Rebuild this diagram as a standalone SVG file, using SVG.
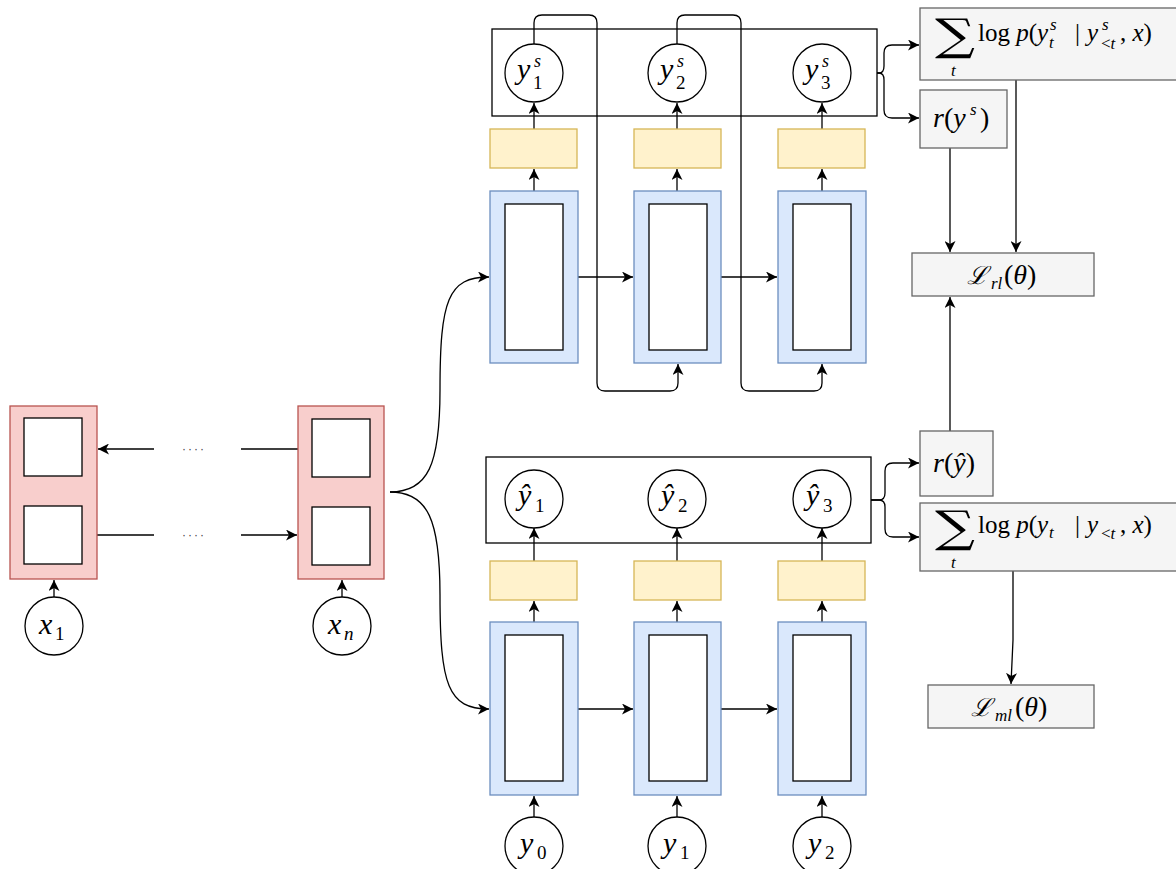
<svg xmlns="http://www.w3.org/2000/svg" width="1176" height="869" viewBox="0 0 1176 869">
<style>
.red{fill:#f8cecc;stroke:#b85450;stroke-width:1.3}
.blue{fill:#dae8fc;stroke:#6c8ebf;stroke-width:1.3}
.yel{fill:#fff2cc;stroke:#d6b656;stroke-width:1.3}
.gray{fill:#f5f5f5;stroke:#666666;stroke-width:1.3}
.inner{fill:#ffffff;stroke:#000000;stroke-width:1.3}
.out{fill:none;stroke:#000000;stroke-width:1.3}
.circ{fill:#ffffff;stroke:#000000;stroke-width:1.3}
.e{fill:none;stroke:#000000;stroke-width:1.3}
.ea{fill:none;stroke:#000000;stroke-width:1.3;marker-end:url(#arr)}
.m{font-family:"Liberation Serif","DejaVu Serif",serif;fill:#000}
.i{font-style:italic}
.big{font-size:30px}
.sm{font-size:19px}
.ss{font-size:18px}
.f{font-size:25px}
.fr{font-size:28px}
.fs{font-size:17px}
.sig{font-size:40px;font-family:"DejaVu Serif",serif}
.dots{font-family:"Liberation Sans",sans-serif;font-size:12px;fill:#444;letter-spacing:2px}
</style>
<defs>
<marker id="arr" markerUnits="userSpaceOnUse" markerWidth="13" markerHeight="11" refX="11" refY="5.5" orient="auto">
<path d="M0,0 L11,5.5 L0,11 L3,5.5 Z" fill="#000"/>
</marker>
</defs>
<rect width="1176" height="869" fill="#ffffff"/>

<g id="connectors">
<line class="e" x1="298" y1="449" x2="241" y2="449"/>
<line class="ea" x1="154" y1="449" x2="98" y2="449"/>
<line class="e" x1="97" y1="535" x2="154" y2="535"/>
<line class="ea" x1="241" y1="535" x2="297" y2="535"/>
<line class="ea" x1="54" y1="597" x2="54" y2="580"/>
<line class="ea" x1="342" y1="597" x2="342" y2="580"/>
<path class="ea" d="M390,492 C428,492 440,465 440,390 C440,300 448,277 489,277"/>
<path class="ea" d="M390,492 C428,492 440,520 440,595 C440,685 448,709 489,709"/>
<line class="ea" x1="578" y1="277" x2="633" y2="277"/>
<line class="ea" x1="721" y1="277" x2="777" y2="277"/>
<line class="ea" x1="534" y1="191" x2="534" y2="169"/>
<line class="ea" x1="677" y1="191" x2="677" y2="169"/>
<line class="ea" x1="822" y1="191" x2="822" y2="169"/>
<line class="ea" x1="534" y1="129" x2="534" y2="103"/>
<line class="ea" x1="677" y1="129" x2="677" y2="103"/>
<line class="ea" x1="822" y1="129" x2="822" y2="103"/>
<path class="ea" d="M534,44 L534,23 Q534,15 542,15 L589,15 Q597,15 597,23 L597,383 Q597,391 605,391 L670,391 Q678,391 678,383 L678,364"/>
<path class="ea" d="M677,44 L677,23 Q677,15 685,15 L733,15 Q741,15 741,23 L741,383 Q741,391 749,391 L814,391 Q822,391 822,383 L822,364"/>
<line class="ea" x1="578" y1="709" x2="633" y2="709"/>
<line class="ea" x1="721" y1="709" x2="777" y2="709"/>
<line class="ea" x1="534" y1="622" x2="534" y2="601"/>
<line class="ea" x1="677" y1="622" x2="677" y2="601"/>
<line class="ea" x1="822" y1="622" x2="822" y2="601"/>
<line class="ea" x1="534" y1="561" x2="534" y2="528"/>
<line class="ea" x1="677" y1="561" x2="677" y2="528"/>
<line class="ea" x1="822" y1="561" x2="822" y2="528"/>
<line class="ea" x1="534" y1="817" x2="534" y2="796"/>
<line class="ea" x1="677" y1="817" x2="677" y2="796"/>
<line class="ea" x1="822" y1="817" x2="822" y2="796"/>
<path class="ea" d="M877,73 L879,73 Q884,73 884,66 L884,53 Q884,45 892,45 L919,45"/>
<path class="ea" d="M877,73 L879,73 Q884,73 884,80 L884,110 Q884,118 892,118 L919,118"/>
<path class="ea" d="M871,500 L879,500 Q885,500 885,493 L885,471 Q885,463 893,463 L919,463"/>
<path class="ea" d="M871,500 L879,500 Q885,500 885,507 L885,529 Q885,537 893,537 L919,537"/>
<line class="ea" x1="950" y1="148" x2="950" y2="252"/>
<line class="ea" x1="1016" y1="80" x2="1016" y2="252"/>
<line class="ea" x1="950" y1="431" x2="950" y2="297"/>
<path class="ea" d="M1013,571 L1013,640 L1011,684"/>
</g>

<g id="enc1">
<rect class="red" x="10" y="406" width="87" height="173"/>
<rect class="inner" x="24" y="418" width="58" height="58"/>
<rect class="inner" x="24" y="506" width="58" height="58"/>
</g>
<g id="encn">
<rect class="red" x="298" y="406" width="86" height="173"/>
<rect class="inner" x="312" y="419" width="58" height="58"/>
<rect class="inner" x="312" y="507" width="58" height="58"/>
</g>
<g id="dots">
<text class="dots" x="182" y="453">····</text>
<text class="dots" x="182" y="539">····</text>
</g>
<g id="x1">
<circle class="circ" cx="54" cy="626" r="29"/>
<text class="m i big" x="39" y="634">x</text><text class="m sm" x="55" y="640">1</text>
</g>
<g id="xn">
<circle class="circ" cx="342" cy="626" r="29"/>
<text class="m i big" x="328" y="634">x</text><text class="m i sm" x="344" y="640">n</text>
</g>

<g id="dec-top">
<rect class="out" x="492" y="29" width="385" height="87"/>
<rect class="yel" x="490" y="129" width="87" height="39"/>
<rect class="yel" x="634" y="129" width="87" height="39"/>
<rect class="yel" x="778" y="129" width="87" height="39"/>
<rect class="blue" x="490" y="191" width="88" height="172"/>
<rect class="inner" x="505" y="204" width="58" height="146"/>
<rect class="blue" x="634" y="191" width="87" height="172"/>
<rect class="inner" x="649" y="204" width="58" height="146"/>
<rect class="blue" x="778" y="191" width="88" height="172"/>
<rect class="inner" x="793" y="204" width="58" height="146"/>
</g>
<g id="ys1"><circle class="circ" cx="534" cy="73" r="29"/>
<text class="m i big" x="517" y="79">y</text><text class="m i ss" x="534" y="67">s</text><text class="m sm" x="533" y="89">1</text></g>
<g id="ys2"><circle class="circ" cx="677" cy="73" r="29"/>
<text class="m i big" x="660" y="79">y</text><text class="m i ss" x="677" y="67">s</text><text class="m sm" x="676" y="89">2</text></g>
<g id="ys3"><circle class="circ" cx="822" cy="73" r="29"/>
<text class="m i big" x="805" y="79">y</text><text class="m i ss" x="822" y="67">s</text><text class="m sm" x="821" y="89">3</text></g>

<g id="dec-bot">
<rect class="out" x="486" y="457" width="385" height="86"/>
<rect class="yel" x="490" y="561" width="87" height="39"/>
<rect class="yel" x="634" y="561" width="87" height="39"/>
<rect class="yel" x="778" y="561" width="87" height="39"/>
<rect class="blue" x="490" y="622" width="88" height="173"/>
<rect class="inner" x="505" y="635" width="58" height="146"/>
<rect class="blue" x="634" y="622" width="87" height="173"/>
<rect class="inner" x="649" y="635" width="58" height="146"/>
<rect class="blue" x="778" y="622" width="88" height="173"/>
<rect class="inner" x="793" y="635" width="58" height="146"/>
</g>
<g id="yh1"><circle class="circ" cx="534" cy="499" r="29"/>
<text class="m i big" x="518" y="505">ŷ</text><text class="m sm" x="535" y="512">1</text></g>
<g id="yh2"><circle class="circ" cx="677" cy="499" r="29"/>
<text class="m i big" x="661" y="505">ŷ</text><text class="m sm" x="678" y="512">2</text></g>
<g id="yh3"><circle class="circ" cx="822" cy="499" r="29"/>
<text class="m i big" x="806" y="505">ŷ</text><text class="m sm" x="823" y="512">3</text></g>

<g id="y0"><circle class="circ" cx="534" cy="846" r="29"/>
<text class="m i big" x="520" y="853">y</text><text class="m sm" x="537" y="859">0</text></g>
<g id="y1"><circle class="circ" cx="677" cy="846" r="29"/>
<text class="m i big" x="663" y="853">y</text><text class="m sm" x="680" y="859">1</text></g>
<g id="y2"><circle class="circ" cx="822" cy="846" r="29"/>
<text class="m i big" x="808" y="853">y</text><text class="m sm" x="825" y="859">2</text></g>

<g id="sum-rl">
<rect class="gray" x="920" y="8" width="262" height="72"/>
<text class="m sig" transform="translate(935,50) scale(1.4,1.1)">∑</text>
<text class="m i fs" x="951" y="76">t</text>
<text class="m f" x="978" y="41">log <tspan class="i">p</tspan>(<tspan class="i">y</tspan></text>
<text class="m i fs" x="1050" y="30">s</text><text class="m i fs" x="1049" y="48">t</text>
<text class="m f" x="1075" y="41">|</text>
<text class="m f i" x="1087" y="41">y</text>
<text class="m i fs" x="1102" y="30">s</text><text class="m fs" x="1101" y="49">&lt;<tspan class="i">t</tspan></text>
<text class="m f" x="1120" y="41">, <tspan class="i">x</tspan>)</text>
</g>
<g id="r-ys">
<rect class="gray" x="920" y="90" width="87" height="58"/>
<text class="m fr" x="933" y="127"><tspan class="i">r</tspan>(<tspan class="i">y</tspan></text>
<text class="m i fs" x="970" y="115">s</text>
<text class="m fr" x="980" y="127">)</text>
</g>
<g id="L-rl">
<rect class="gray" x="912" y="253" width="182" height="43"/>
<text class="m" x="967" y="284" style="font-family:'DejaVu Serif',serif;font-size:25px;font-style:italic">ℒ</text>
<text class="m i fs" x="991" y="289">rl</text>
<text class="m fr" x="1004" y="284">(<tspan class="i">θ</tspan>)</text>
</g>
<g id="r-yh">
<rect class="gray" x="920" y="431" width="73" height="65"/>
<text class="m fr" x="933" y="472"><tspan class="i">r</tspan>(<tspan class="i">ŷ</tspan>)</text>
</g>
<g id="sum-ml">
<rect class="gray" x="920" y="503" width="262" height="68"/>
<text class="m sig" transform="translate(935,542) scale(1.4,1.1)">∑</text>
<text class="m i fs" x="951" y="568">t</text>
<text class="m f" x="978" y="533">log <tspan class="i">p</tspan>(<tspan class="i">y</tspan></text>
<text class="m i fs" x="1049" y="538">t</text>
<text class="m f" x="1075" y="533">|</text>
<text class="m f i" x="1087" y="533">y</text>
<text class="m fs" x="1101" y="539">&lt;<tspan class="i">t</tspan></text>
<text class="m f" x="1120" y="533">, <tspan class="i">x</tspan>)</text>
</g>
<g id="L-ml">
<rect class="gray" x="928" y="685" width="166" height="43"/>
<text class="m" x="971" y="716" style="font-family:'DejaVu Serif',serif;font-size:25px;font-style:italic">ℒ</text>
<text class="m i fs" x="995" y="721">ml</text>
<text class="m fr" x="1015" y="716">(<tspan class="i">θ</tspan>)</text>
</g>
</svg>
